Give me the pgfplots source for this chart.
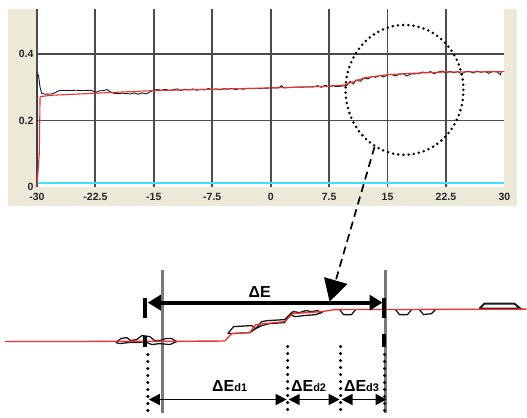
\documentclass[border=0pt]{standalone}
\usepackage{pgfplots}
\pgfplotsset{compat=1.18}
\usepackage{fontspec}
\setmainfont{Liberation Sans}
\usetikzlibrary{arrows.meta}
\definecolor{panel}{RGB}{236,233,216}
\definecolor{gridc}{RGB}{75,75,75}
\definecolor{redl}{RGB}{238,50,50}
\definecolor{cyanl}{RGB}{70,225,240}
\definecolor{greyv}{RGB}{120,120,120}
\definecolor{trace}{RGB}{25,25,25}
\begin{document}
\begin{tikzpicture}
\begin{scope}[x=1pt,y=-1pt]
\path[use as bounding box] (0,0) rectangle (527,414);
\fill[panel] (8,9) rectangle (518,206);
\end{scope}

% ---------- top chart ----------
\begin{axis}[at={(37pt,-187pt)}, anchor=south west,
  width=468pt, height=178pt, scale only axis,
  xmin=-30, xmax=30, ymin=0, ymax=0.536,
  axis line style={draw=none},
  axis background/.style={fill=white},
  xtick={-30,-22.5,-15,-7.5,0,7.5,15,22.5},
  xticklabels={-30,-22.5,-15,-7.5,0,7.5,15,22.5},
  extra x ticks={30}, extra x tick labels={30},
  ytick={0.2,0.4}, yticklabels={0.2,0.4},
  extra y ticks={0}, extra y tick labels={0},
  extra tick style={grid=none},
  grid=major, major grid style={gridc, line width=1.8pt},
  major tick length=0pt,
  tick label style={font=\bfseries\fontsize{10.5}{10.5}\selectfont, text=black!85},
  xticklabel style={yshift=-3pt},
]
\addplot[cyanl, line width=1.6pt] coordinates {(-30,0.012) (30,0.012)};
\addplot[trace, line width=0.9pt] coordinates {
(-30,0)(-30,0.343)(-29.8,0.335)(-29.6,0.3)(-29.4,0.282)(-29,0.279)(-28,0.28)(-27.5,0.286)(-27,0.291)(-26,0.29)(-25,0.291)(-24,0.29)(-23,0.291)(-22.5,0.284)(-22,0.289)(-21.5,0.29)(-21,0.293)(-20.5,0.285)(-20,0.281)(-19,0.282)(-18.5,0.281)(-18,0.28)(-17.5,0.283)(-17,0.279)(-16.5,0.283)(-16,0.28)(-15.5,0.286)(-15,0.292)(-14.5,0.293)(-14,0.291)(-13.5,0.294)(-13,0.29)(-12.5,0.293)(-12,0.295)(-11.5,0.29)(-11,0.294)(-10.5,0.292)(-10,0.295)(-9.5,0.291)(-9,0.294)(-8.5,0.292)(-8,0.296)(-7.5,0.293)(-7,0.295)(-6.5,0.292)(-6,0.296)(-5.5,0.294)(-5,0.297)(-4.5,0.293)(-4,0.296)(-3.5,0.294)(-3,0.297)(-2,0.296)(-1,0.297)(0,0.298)(1,0.298)(1.4,0.305)(1.7,0.298)(3,0.3)(5,0.301)(5.5,0.301)(6,0.305)(6.5,0.3)(7,0.306)(7.5,0.301)(8,0.306)(8.3,0.302)(9,0.303)(9.8,0.306)(10.2,0.318)(10.6,0.31)(11,0.322)(11.5,0.318)(12,0.328)(12.5,0.325)(13,0.333)(13.5,0.33)(14,0.336)(14.5,0.331)(15,0.338)(15.5,0.339)(16,0.334)(16.5,0.339)(17,0.341)(17.5,0.334)(18,0.34)(19,0.341)(19.5,0.346)(20,0.344)(20.5,0.347)(21,0.341)(21.5,0.346)(22,0.349)(22.5,0.343)(23,0.348)(23.5,0.344)(24,0.347)(24.5,0.341)(25,0.347)(25.5,0.348)(26,0.343)(26.5,0.349)(27,0.345)(27.5,0.348)(28,0.342)(28.5,0.348)(29,0.347)(29.5,0.338)(29.6,0.346)};
\addplot[redl, line width=1.1pt] coordinates {
(-30,0)(-29.7,0.1)(-29.6,0.272)(-28,0.276)(-22.5,0.282)(-15,0.29)(-7.5,0.294)(0,0.298)(7.5,0.303)(9.5,0.307)(10.5,0.316)(12,0.328)(15,0.338)(18,0.342)(22.5,0.346)(30,0.347)};
\end{axis}

% ---------- zoomed inset ----------
\begin{axis}[at={(0pt,-414pt)}, anchor=south west,
  width=527pt, height=194pt, scale only axis,
  xmin=0, xmax=527, ymin=220, ymax=414, y dir=reverse,
  hide axis, clip=false]
\addplot[greyv, line width=3pt] coordinates {(163,270)(163,414)};
\addplot[greyv, line width=3pt] coordinates {(386,270)(386,414)};
\addplot[trace, line width=1.3pt] coordinates {(116,343)(121,339)(127,338)(131,341)(137,340)(142,336)(150,337)(155,341)(160,341)(166,339)(172,339)(177,342)(170,345)(160,344)(152,345)(145,342)(138,343)(128,343)(120,344)(116,343)};
\addplot[trace, line width=1.3pt] coordinates {(228,334)(234,327)(252,326)(256,329)(250,333)(232,334)(228,334)};
\addplot[trace, line width=1.3pt] coordinates {(256,329)(262,322)(268,321)(285,320)(290,315)(285,323)(270,324)(262,326)(256,329)};
\addplot[trace, line width=1.3pt] coordinates {(290,315)(294,312)(300,313)(306,311)(312,312)(318,311)(322,313)(316,315)(304,316)(296,317)(290,315)};
\addplot[trace, line width=1.3pt] coordinates {(340,310)(344,315)(352,315)(356,310)};
\addplot[trace, line width=1.3pt] coordinates {(396,310)(400,315)(408,315)(412,310)};
\addplot[trace, line width=1.3pt] coordinates {(420,310)(424,315)(432,314)(436,310)};
\addplot[trace, line width=2pt] coordinates {(480,309)(485,304)(515,304)(521,309)(480,309)};
\addplot[redl, line width=1.3pt] coordinates {(5,342)(225,341.5)(232,334)(250,333)(256,325)(285,322)(293,314)(322,312)(335,310)(527,309.5)};
\end{axis}

% ---------- annotations ----------
\begin{scope}[x=1pt,y=-1pt]
\draw[line width=2.8pt, line cap=round, dash pattern=on 0pt off 5.2pt] (405,90) ellipse [x radius=59pt, y radius=65pt];
\draw[line width=1.7pt, dash pattern=on 8pt off 5pt, -{Triangle[length=22pt,width=24pt]}] (375,147) -- (330,302);
% delta E
\draw[line width=4pt, {Triangle[length=13pt,width=15pt]}-{Triangle[length=13pt,width=15pt]}] (148,303) -- (383,303);
\draw[line width=4pt] (145,298) -- (145,318);
\draw[line width=4pt] (145,336) -- (145,347);
\draw[line width=4pt] (384,298) -- (384,318);
\draw[line width=4pt] (384,334) -- (384,347);
\draw[line width=3.4pt, line cap=round, dash pattern=on 0pt off 7pt] (148,355) -- (148,416);
\draw[line width=3.4pt, line cap=round, dash pattern=on 0pt off 7pt] (385,355) -- (385,416);
\draw[line width=3.4pt, line cap=round, dash pattern=on 0pt off 7pt] (288,347) -- (288,416);
\draw[line width=3.4pt, line cap=round, dash pattern=on 0pt off 7pt] (341,347) -- (341,416);
\draw[line width=1.5pt, {Triangle[length=11pt,width=11pt]}-{Triangle[length=11pt,width=11pt]}] (149,400) -- (287,400);
\draw[line width=1.5pt, {Triangle[length=11pt,width=11pt]}-{Triangle[length=11pt,width=11pt]}] (289,400) -- (340,400);
\draw[line width=1.5pt, {Triangle[length=11pt,width=11pt]}-{Triangle[length=11pt,width=11pt]}] (342,400) -- (387,400);
\node[inner sep=0pt, font=\bfseries\fontsize{16}{16}\selectfont] at (260,292) {ΔE};
\node[inner sep=0pt, anchor=base, font=\bfseries\fontsize{16}{16}\selectfont] at (230,392) {ΔE{\fontsize{11}{11}\selectfont d1}};
\node[inner sep=0pt, anchor=base, font=\bfseries\fontsize{16}{16}\selectfont] at (309,392) {ΔE{\fontsize{11}{11}\selectfont d2}};
\node[inner sep=0pt, anchor=base, font=\bfseries\fontsize{16}{16}\selectfont] at (362,392) {ΔE{\fontsize{11}{11}\selectfont d3}};
\end{scope}
\end{tikzpicture}
\end{document}
